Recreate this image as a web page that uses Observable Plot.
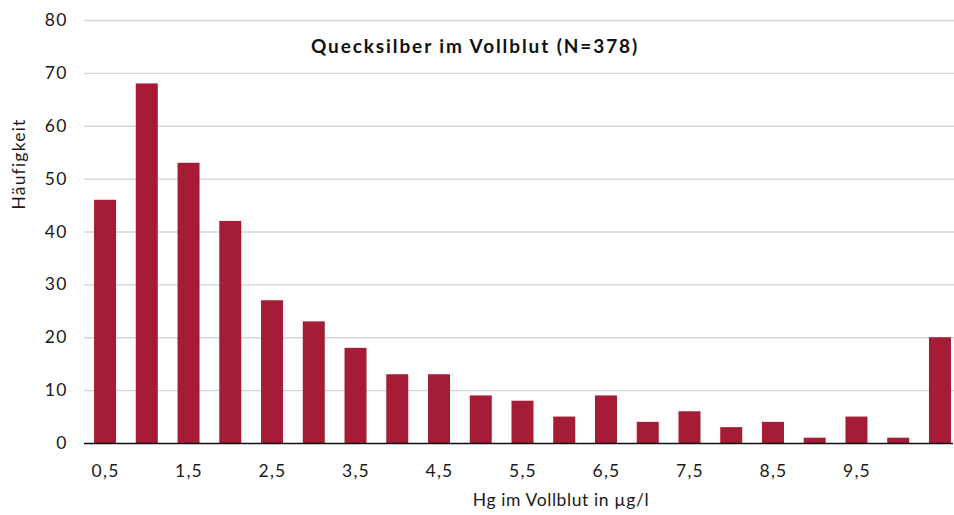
<!DOCTYPE html>
<html>
<head>
<meta charset="utf-8">
<script src="https://cdn.jsdelivr.net/npm/d3@7"></script>
<script src="https://cdn.jsdelivr.net/npm/@observablehq/plot@0.6"></script>
<style>
  html, body { margin: 0; padding: 0; background: #fff; }
  #chart svg { display: block; }
</style>
</head>
<body>
<div id="chart"></div>
<script>
const categories = ["0,5","1","1,5","2","2,5","3","3,5","4","4,5","5","5,5","6","6,5","7","7,5","8","8,5","9","9,5","10","> 10"];
const counts = [46, 68, 53, 42, 27, 23, 18, 13, 13, 9, 8, 5, 9, 4, 6, 3, 4, 1, 5, 1, 20];
const xTickLabels = ["0,5","1,5","2,5","3,5","4,5","5,5","6,5","7,5","8,5","9,5"];
const yTicks = [0, 10, 20, 30, 40, 50, 60, 70, 80];
const title = "Quecksilber im Vollblut (N=378)";
const xLabel = "Hg im Vollblut in µg/l";
const yLabel = "Häufigkeit";

const data = categories.map((c, i) => ({cat: c, count: counts[i]}));
const font = "Lato, 'Open Sans', sans-serif";

const chart = Plot.plot({
  width: 954,
  height: 515,
  marginTop: 20,
  marginBottom: 72,
  marginLeft: 94,
  marginRight: 3,
  style: {fontFamily: font, fontSize: "17px", color: "#1a1a1a", background: "#fff", letterSpacing: "1.2px"},
  x: {type: "band", domain: categories, paddingInner: 0.473, paddingOuter: 0.001, align: 0.5, round: false},
  y: {domain: [0, 80]},
  marks: [
    Plot.ruleY(yTicks.filter(d => d > 0), {stroke: "#d4d4d4", strokeWidth: 1.3, insetLeft: -10, insetRight: -3}),
    Plot.barY(data, {x: "cat", y: "count", fill: "#a41c36"}),
    Plot.ruleY([0], {stroke: "#111", strokeWidth: 1.3, insetLeft: -10, insetRight: -2}),
    Plot.axisY({ticks: yTicks, tickSize: 0, tickPadding: 27, label: null, fontSize: 17.5}),
    Plot.axisX({ticks: xTickLabels, tickSize: 0, tickPadding: 21, label: null, fontSize: 17.5}),
    Plot.text([title], {frameAnchor: "top", lineAnchor: "middle", textAnchor: "middle", dy: 26, dx: -48, fontWeight: "bold", fontSize: 19, fill: "#111"}),
    Plot.text([yLabel], {frameAnchor: "left", lineAnchor: "middle", textAnchor: "middle", dx: -75, dy: -68, rotate: -90, fontSize: 17.5, fill: "#1a1a1a"}),
    Plot.text([xLabel], {frameAnchor: "bottom", lineAnchor: "middle", textAnchor: "middle", dx: 38, dy: 57, fontSize: 17.5, fill: "#1a1a1a"})
  ]
});
d3.select(chart).selectAll("text").filter(function() { return this.textContent === title; }).attr("letter-spacing", "1.9px");
d3.select(chart).selectAll("text").filter(function() { return this.textContent === xLabel; }).attr("letter-spacing", "0.6px");
document.getElementById("chart").appendChild(chart);
</script>
</body>
</html>
